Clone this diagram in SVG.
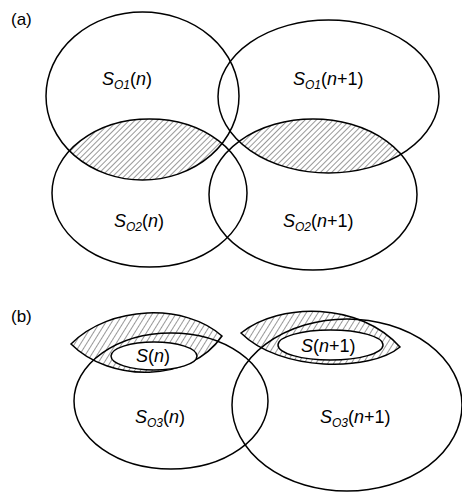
<svg xmlns="http://www.w3.org/2000/svg" width="462" height="492" viewBox="0 0 462 492">
<style>
.o{fill:none;stroke:#000;stroke-width:1.5}
.w{fill:#fff;stroke:#000;stroke-width:1.5}
.h{fill:url(#hatchb);stroke:#000;stroke-width:1.5}
text{font-family:"Liberation Sans",Arial,sans-serif;font-size:18px;fill:#000}
.i{font-style:italic}
.s{font-style:italic;font-size:12px}
.lbl{font-size:17px}
</style>
<defs>
<pattern id="hatch" width="4" height="4" patternUnits="userSpaceOnUse" patternTransform="rotate(45)">
<line x1="0" y1="0" x2="0" y2="4" stroke="#333" stroke-width="1"/>
</pattern>
<pattern id="hatchb" width="5" height="5" patternUnits="userSpaceOnUse" patternTransform="rotate(32)">
<line x1="0" y1="0" x2="0" y2="5" stroke="#333" stroke-width="1"/>
</pattern>
<clipPath id="c1"><ellipse cx="142.5" cy="96" rx="96.5" ry="84"/></clipPath>
<clipPath id="c2"><ellipse cx="328.5" cy="96.5" rx="110.5" ry="76.5"/></clipPath>
</defs>
<text class="lbl" x="11" y="25">(a)</text>
<text class="lbl" x="11" y="322">(b)</text>
<g id="hatch-a">
<ellipse cx="149.5" cy="193" rx="97.5" ry="74" fill="url(#hatch)" clip-path="url(#c1)"/>
<ellipse cx="313" cy="194.5" rx="104" ry="75.5" fill="url(#hatch)" clip-path="url(#c2)"/>
</g>
<g id="SO1n"><ellipse class="o" cx="142.5" cy="96" rx="96.5" ry="84"/>
<text x="102" y="85"><tspan class="i">S</tspan><tspan class="s" dy="4">O1</tspan><tspan dy="-4">(</tspan><tspan class="i">n</tspan>)</text></g>
<g id="SO1n1"><ellipse class="o" cx="328.5" cy="96.5" rx="110.5" ry="76.5"/>
<text x="293" y="85"><tspan class="i">S</tspan><tspan class="s" dy="4">O1</tspan><tspan dy="-4">(</tspan><tspan class="i">n</tspan>+1)</text></g>
<g id="SO2n"><ellipse class="o" cx="149.5" cy="193" rx="97.5" ry="74"/>
<text x="114" y="227"><tspan class="i">S</tspan><tspan class="s" dy="4">O2</tspan><tspan dy="-4">(</tspan><tspan class="i">n</tspan>)</text></g>
<g id="SO2n1"><ellipse class="o" cx="313" cy="194.5" rx="104" ry="75.5"/>
<text x="283" y="227"><tspan class="i">S</tspan><tspan class="s" dy="4">O2</tspan><tspan dy="-4">(</tspan><tspan class="i">n</tspan>+1)</text></g>
<g id="lens-n"><path class="h" d="M71,344 C110,305 185,303 222,336 C190,383 110,383 71,344 Z"/></g>
<g id="lens-n1"><path class="h" d="M241,333 C280,302 360,302 400,347 C370,372 280,372 241,333 Z"/></g>
<g id="Sn"><ellipse class="w" cx="154" cy="356" rx="43" ry="14"/>
<text x="136" y="362"><tspan class="i">S</tspan>(<tspan class="i">n</tspan>)</text></g>
<g id="Sn1"><ellipse class="w" cx="330.5" cy="345" rx="52.5" ry="15"/>
<text x="301" y="352"><tspan class="i">S</tspan>(<tspan class="i">n</tspan>+1)</text></g>
<g id="SO3n"><ellipse class="o" cx="171" cy="401" rx="97" ry="68"/>
<text x="135" y="423"><tspan class="i">S</tspan><tspan class="s" dy="4">O3</tspan><tspan dy="-4">(</tspan><tspan class="i">n</tspan>)</text></g>
<g id="SO3n1"><ellipse class="o" cx="347" cy="405" rx="115" ry="86"/>
<text x="320" y="423"><tspan class="i">S</tspan><tspan class="s" dy="4">O3</tspan><tspan dy="-4">(</tspan><tspan class="i">n</tspan>+1)</text></g>
<g id="connectors"/>
</svg>
